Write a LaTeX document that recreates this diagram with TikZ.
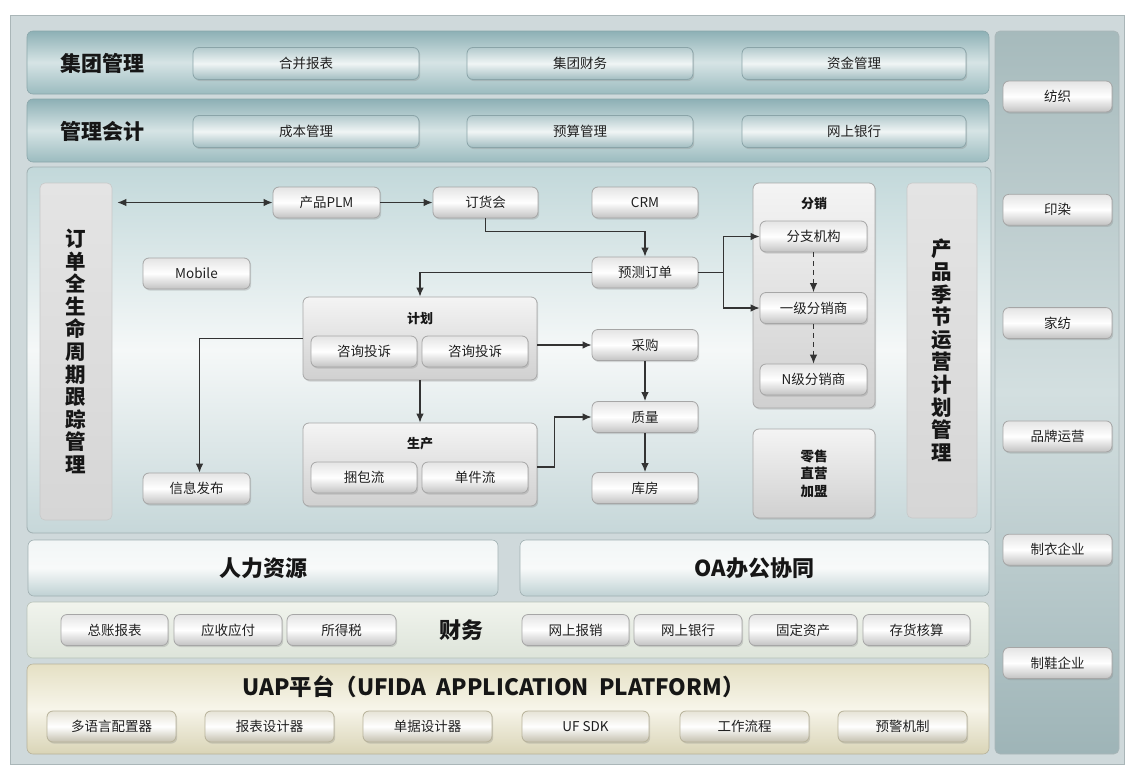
\documentclass[tikz,border=0pt]{standalone}
\usepackage{fontspec}
\setmainfont{Noto Sans CJK SC}
\usetikzlibrary{arrows.meta,shadows}
\definecolor{txt}{HTML}{1F1F1F}
\definecolor{dark}{HTML}{161616}
\definecolor{arrc}{HTML}{333333}
\definecolor{framefill}{HTML}{CFD9DB}
\definecolor{frameline}{HTML}{AAB6B8}
\definecolor{rowtop}{HTML}{8DB0B5}
\definecolor{rowmid}{HTML}{D6E4E5}
\definecolor{rowbot}{HTML}{9BBBBF}
\definecolor{rowline}{HTML}{8AA6AA}
\definecolor{tbtop}{HTML}{B3CACD}
\definecolor{tbmid}{HTML}{F0F5F5}
\definecolor{tbbot}{HTML}{A2BDC1}
\definecolor{tbline}{HTML}{8AA4A8}
\definecolor{btntop}{HTML}{E4E4E4}
\definecolor{btnbot}{HTML}{C2C2C2}
\definecolor{btnline}{HTML}{A6A6A6}
\definecolor{paneltop}{HTML}{A6BABC}
\definecolor{panelmid}{HTML}{D3DFE0}
\definecolor{panelbot}{HTML}{9EB4B7}
\definecolor{midtop}{HTML}{C2D8DA}
\definecolor{midmid}{HTML}{F5F8F8}
\definecolor{midbot}{HTML}{C6D7D9}
\definecolor{midline}{HTML}{A0B0B2}
\definecolor{grptop}{HTML}{F4F4F4}
\definecolor{grpbot}{HTML}{D0D0D0}
\definecolor{grpline}{HTML}{A8A8A8}
\definecolor{bartop}{HTML}{E4E4E4}
\definecolor{barbot}{HTML}{D6D6D6}
\definecolor{barline}{HTML}{C8C8C8}
\definecolor{hrtop}{HTML}{F2F6F6}
\definecolor{hrmid}{HTML}{F8FAFA}
\definecolor{hrbot}{HTML}{BFD1D3}
\definecolor{fintop}{HTML}{F1F4ED}
\definecolor{finbot}{HTML}{DDE4DA}
\definecolor{finline}{HTML}{B8C2B8}
\definecolor{uaptop}{HTML}{E5E0C4}
\definecolor{uapmid}{HTML}{F7F5EA}
\definecolor{uapbot}{HTML}{D9D4B6}
\definecolor{uapline}{HTML}{B7B29A}
\definecolor{ubtop}{HTML}{E6E3D6}
\definecolor{ubbot}{HTML}{C4C0AE}
\begin{document}
\begin{tikzpicture}[x=1pt,y=-1pt,
  shad/.style={drop shadow={opacity=0.28, shadow xshift=1.2pt, shadow yshift=-1.6pt}},
  frame/.style={draw=frameline, fill=framefill, line width=0.8pt, inner sep=0pt},
  row/.style={draw=rowline, rounded corners=6pt, top color=rowtop, bottom color=rowbot, middle color=rowmid, line width=0.6pt, inner sep=0pt},
  tbtn/.style={draw=tbline, rounded corners=6pt, top color=tbtop, bottom color=tbbot, middle color=tbmid, line width=0.8pt, inner sep=0pt, minimum height=32, font=\fontsize{13.5}{16}\selectfont, text=txt, shad},
  btn/.style={draw=btnline, rounded corners=6pt, top color=btntop, bottom color=btnbot, middle color=white, line width=0.8pt, inner sep=0pt, minimum height=31, font=\fontsize{13.5}{16}\selectfont, text=txt, shad},
  ubtn/.style={draw=uapline, rounded corners=6pt, top color=ubtop, bottom color=ubbot, middle color=white, line width=0.8pt, inner sep=0pt, minimum height=31, font=\fontsize{13.5}{16}\selectfont, text=txt, shad},
  panel/.style={draw=frameline, rounded corners=5pt, top color=paneltop, bottom color=panelbot, middle color=panelmid, line width=0.6pt, inner sep=0pt},
  midbox/.style={draw=midline, rounded corners=6pt, top color=midtop, bottom color=midbot, middle color=midmid, line width=0.8pt, inner sep=0pt},
  grp/.style={draw=grpline, rounded corners=6pt, top color=grptop, bottom color=grpbot, line width=0.8pt, inner sep=0pt, shad},
  vbar/.style={draw=barline, rounded corners=5pt, top color=bartop, bottom color=barbot, line width=0.6pt, inner sep=0pt, align=center, text=dark, font=\fontsize{20.5}{22.6}\selectfont\bfseries},
  hrbox/.style={draw=midline, rounded corners=6pt, top color=hrtop, bottom color=hrbot, middle color=hrmid, line width=0.6pt, inner sep=0pt},
  finbox/.style={draw=finline, rounded corners=6pt, top color=fintop, bottom color=finbot, line width=0.6pt, inner sep=0pt},
  uapbox/.style={draw=uapline, rounded corners=6pt, top color=uaptop, bottom color=uapbot, middle color=uapmid, line width=0.6pt, inner sep=0pt},
  bigtitle/.style={inner sep=0pt, text=dark, font=\fontsize{21}{24}\selectfont\bfseries},
  grptitle/.style={inner sep=0pt, text=dark, font=\fontsize{13}{16}\selectfont\bfseries},
  arr/.style={draw=arrc, line width=1.2pt, -{Latex[length=9pt,width=7.5pt]}},
  darr/.style={draw=arrc, line width=1.2pt, {Latex[length=9pt,width=7.5pt]}-{Latex[length=9pt,width=7.5pt]}},
  dasharr/.style={draw=arrc, line width=1.1pt, dash pattern=on 5pt off 4pt, -{Latex[length=9pt,width=7.5pt]}}
]
\useasboundingbox[fill=white] (0,0) rectangle (1132,771);
\node[frame, minimum width=1114, minimum height=749] (outer) at (567,389.5) {};

% top rows
\node[row, minimum width=962, minimum height=63] (row1) at (508,62.5) {};
\node[row, minimum width=962, minimum height=63] (row2) at (508,130.5) {};
\node[bigtitle] (t1) at (102,63) {集团管理};
\node[bigtitle] (t2) at (102,131) {管理会计};
\node[tbtn, minimum width=226] (hbbb) at (306,63.5) {合并报表};
\node[tbtn, minimum width=226] (jtcw) at (580,63.5) {集团财务};
\node[tbtn, minimum width=224] (zjgl) at (854,63.5) {资金管理};
\node[tbtn, minimum width=226] (cbgl) at (306,131.5) {成本管理};
\node[tbtn, minimum width=226] (ysgl) at (580,131.5) {预算管理};
\node[tbtn, minimum width=224] (wsyh1) at (854,131.5) {网上银行};

% right panel
\node[panel, minimum width=124, minimum height=723] (rp) at (1057,392.5) {};
\node[btn, minimum width=109] (fz1) at (1057.5,96.5) {纺织};
\node[btn, minimum width=109] (yr) at (1057.5,209.8) {印染};
\node[btn, minimum width=109] (jf) at (1057.5,323.1) {家纺};
\node[btn, minimum width=109] (ppyy) at (1057.5,436.4) {品牌运营};
\node[btn, minimum width=109] (zyqy) at (1057.5,549.7) {制衣企业};
\node[btn, minimum width=109] (zxqy) at (1057.5,663) {制鞋企业};

% middle section
\node[midbox, minimum width=964, minimum height=366] (mid) at (509,350) {};
\node[vbar, minimum width=72, minimum height=337] (lbar) at (76,351.5) {订\\单\\全\\生\\命\\周\\期\\跟\\踪\\管\\理};
\node[vbar, minimum width=70, minimum height=335] (rbar) at (942,350.5) {产\\品\\季\\节\\运\\营\\计\\划\\管\\理};

\node[btn, minimum width=107] (plm) at (326.5,202.5) {产品PLM};
\node[btn, minimum width=105] (dhh) at (485.5,202.5) {订货会};
\node[btn, minimum width=106] (crm) at (645,202.5) {CRM};
\node[btn, minimum width=107] (mob) at (196.5,273.5) {Mobile};
\node[btn, minimum width=106] (yc) at (645,272.5) {预测订单};
\node[btn, minimum width=106] (cg) at (645,345) {采购};
\node[btn, minimum width=106] (zl) at (645,417) {质量};
\node[btn, minimum width=106] (kf) at (645,488) {库房};
\node[btn, minimum width=107] (xx) at (196.5,488.5) {信息发布};

\node[grp, minimum width=234, minimum height=83] (plan) at (420,338.5) {};
\node[grptitle] (plant) at (420,319) {计划};
\node[btn, minimum width=106] (zx1) at (364,351.5) {咨询投诉};
\node[btn, minimum width=106] (zx2) at (475,351.5) {咨询投诉};

\node[grp, minimum width=234, minimum height=83] (prod) at (420,464.5) {};
\node[grptitle] (prodt) at (420,444) {生产};
\node[btn, minimum width=106] (kb) at (364,477.5) {捆包流};
\node[btn, minimum width=106] (dj) at (475,477.5) {单件流};

\node[grp, minimum width=122, minimum height=225] (fx) at (814,295.5) {};
\node[grptitle] (fxt) at (814,204) {分销};
\node[btn, minimum width=107] (fzjg) at (813.5,236.5) {分支机构};
\node[btn, minimum width=107] (yj) at (813.5,308) {一级分销商};
\node[btn, minimum width=107] (nj) at (813.5,379.5) {N级分销商};

\node[grp, minimum width=122, minimum height=89, align=center, text=dark, font=\fontsize{13.5}{17.5}\selectfont\bfseries] (ls) at (814,473.5) {零售\\直营\\加盟};

% connectors
\draw[darr] ([xshift=5pt]lbar.east |- plm.west) -- (plm.west);
\draw[arr] (plm.east) -- (dhh.west);
\draw[arr] (dhh.south) -- ++(0,13) -| (yc.north);
\draw[arr] (yc.west) -| (plan.north);
\draw[draw=arrc, line width=1.2pt] (yc.east) -- ++(25,0) coordinate (br);
\draw[arr] (br) |- (fzjg.west);
\draw[arr] (br) |- (yj.west);
\draw[dasharr] (fzjg.south) -- (yj.north);
\draw[dasharr] (yj.south) -- (nj.north);
\draw[arr] (plan.east |- cg.west) -- (cg.west);
\draw[arr] (plan.west) -| ([xshift=3pt]xx.north);
\draw[arr] (plan.south) -- (prod.north);
\draw[arr] ([yshift=-2.5pt]prod.east) -- ++(17,0) |- (zl.west);
\draw[arr] (cg.south) -- (zl.north);
\draw[arr] (zl.south) -- (kf.north);

% lower rows
\node[hrbox, minimum width=470, minimum height=56] (hr) at (263,568) {};
\node[bigtitle, font=\fontsize{22}{24}\selectfont\bfseries] (hrt) at (263,568) {人力资源};
\node[hrbox, minimum width=469, minimum height=56] (oa) at (754.5,568) {};
\node[bigtitle, font=\fontsize{22}{24}\selectfont\bfseries] (oat) at (754.5,568) {OA办公协同};

\node[finbox, minimum width=962, minimum height=56] (fin) at (508,630) {};
\node[bigtitle, font=\fontsize{22}{24}\selectfont\bfseries] (fint) at (461,630) {财务};
\node[btn, minimum width=107] (zzbb) at (114.5,630) {总账报表};
\node[btn, minimum width=108] (yshf) at (228,630) {应收应付};
\node[btn, minimum width=109] (sds) at (341.5,630) {所得税};
\node[btn, minimum width=107] (wsbx) at (575.5,630) {网上报销};
\node[btn, minimum width=108] (wsyh2) at (688,630) {网上银行};
\node[btn, minimum width=108] (gdzc) at (803,630) {固定资产};
\node[btn, minimum width=107] (chhs) at (916.5,630) {存货核算};

\node[uapbox, minimum width=962, minimum height=90] (uap) at (508,709) {};
\node[bigtitle, font=\fontsize{22.5}{26}\selectfont\bfseries] (uapt) at (493.5,687) {UAP平台（UFIDA\ \ APPLICATION\ \ PLATFORM）};
\node[ubtn, minimum width=129] (dyy) at (111.5,726.5) {多语言配置器};
\node[ubtn, minimum width=129] (bbsj) at (269.5,726.5) {报表设计器};
\node[ubtn, minimum width=129] (djsj) at (427.5,726.5) {单据设计器};
\node[ubtn, minimum width=127] (ufsdk) at (585.5,726.5) {UF SDK};
\node[ubtn, minimum width=129] (gzlc) at (744.5,726.5) {工作流程};
\node[ubtn, minimum width=129] (yjjz) at (902.5,726.5) {预警机制};
\end{tikzpicture}
\end{document}
